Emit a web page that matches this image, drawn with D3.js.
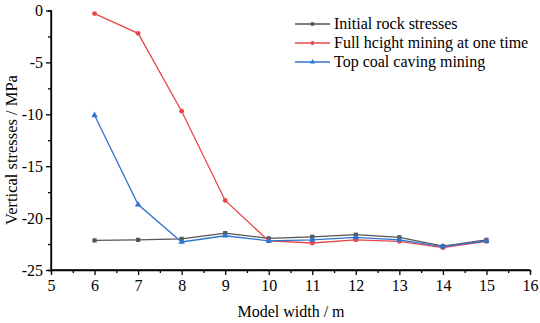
<!DOCTYPE html>
<html><head><meta charset="utf-8">
<script src="https://cdn.jsdelivr.net/npm/d3@7"></script>
</head><body style="margin:0">
<script>
const widths = [6,7,8,9,10,11,12,13,14,15];
const initialStress = [-22.15,-22.1,-22.0,-21.45,-21.95,-21.8,-21.6,-21.85,-22.7,-22.1];
const fullHeight = [-0.3,-2.2,-9.7,-18.3,-22.2,-22.4,-22.1,-22.25,-22.85,-22.25];
const topCoal = [-10.1,-18.7,-22.3,-21.7,-22.2,-22.1,-21.85,-22.1,-22.75,-22.2];
const seriesNames = ["Initial rock stresses","Full hcight mining at one time","Top coal caving mining"];
const xTicks = [5,6,7,8,9,10,11,12,13,14,15,16];
const yTicks = [0,-5,-10,-15,-20,-25];

const FONT='"Liberation Serif", "Times New Roman", Tinos';
const W=540,H=323;
const svg=d3.select("body").append("svg").attr("width",W).attr("height",H)
  .style("display","block").style("font-family",FONT);
const x=d3.scaleLinear().domain([5,16]).range([51,530]);
const y=d3.scaleLinear().domain([-25,0]).range([270,10.5]);

const gx=svg.append("g").attr("transform","translate(0,270)")
  .call(d3.axisBottom(x).tickValues(xTicks).tickSize(5).tickPadding(5).tickFormat(d3.format("d")));
const gxm=svg.append("g").attr("transform","translate(0,270)")
  .call(d3.axisBottom(x).tickValues(d3.range(5.5,16,1)).tickSize(3).tickFormat(""));
const gy=svg.append("g").attr("transform","translate(51,0)")
  .call(d3.axisLeft(y).tickValues(yTicks).tickSize(5).tickPadding(3).tickFormat(d=>d===0?"0":String(d)));
const gym=svg.append("g").attr("transform","translate(51,0)")
  .call(d3.axisLeft(y).tickValues(d3.range(-22.5,0,5)).tickSize(3).tickFormat(""));
[gx,gxm,gy,gym].forEach(g=>{
  g.attr("font-family",FONT).attr("font-size",16);
  g.selectAll("path").attr("stroke","#000").attr("stroke-width",1.3);
  g.selectAll("line").attr("stroke","#000").attr("stroke-width",1.3);
  g.selectAll("text").style("font-family",FONT).style("font-size","16px").attr("fill","#000");
});
gx.select(".domain").attr("d","M51,0H530");
gy.select(".domain").attr("d","M0,10.5V270");

svg.append("text").attr("x",291).attr("y",317).attr("text-anchor","middle")
  .style("font-family",FONT).style("font-size","16px").text("Model width / m");
svg.append("text").attr("transform","translate(16.5,150) rotate(-90)").attr("text-anchor","middle")
  .style("font-family",FONT).style("font-size","16.5px").text("Vertical stresses / MPa");

const colors=["#555555","#e8474a","#2f74cf"];
const data=[initialStress,fullHeight,topCoal];
const symbols=[d3.symbolSquare,d3.symbolCircle,d3.symbolTriangle];
const line=d3.line().x((d,i)=>x(widths[i])).y(d=>y(d));
data.forEach((s,k)=>{
  svg.append("path").attr("d",line(s)).attr("fill","none").attr("stroke",colors[k]).attr("stroke-width",1.3);
  svg.selectAll(null).data(s).enter().append("path")
    .attr("transform",(d,i)=>`translate(${x(widths[i])},${y(d)})`)
    .attr("d",d3.symbol().type(symbols[k]).size(18)).attr("fill",colors[k]);
});

const lg=svg.append("g");
seriesNames.forEach((n,k)=>{
  const yy=24+k*19;
  lg.append("line").attr("x1",295).attr("x2",330).attr("y1",yy).attr("y2",yy).attr("stroke",colors[k]).attr("stroke-width",1.3);
  lg.append("path").attr("transform",`translate(312.5,${yy})`).attr("d",d3.symbol().type(symbols[k]).size(12)).attr("fill",colors[k]);
  lg.append("text").attr("x",334).attr("y",yy+5).style("font-family",FONT).style("font-size","16px").text(n);
});
</script>
</body></html>
